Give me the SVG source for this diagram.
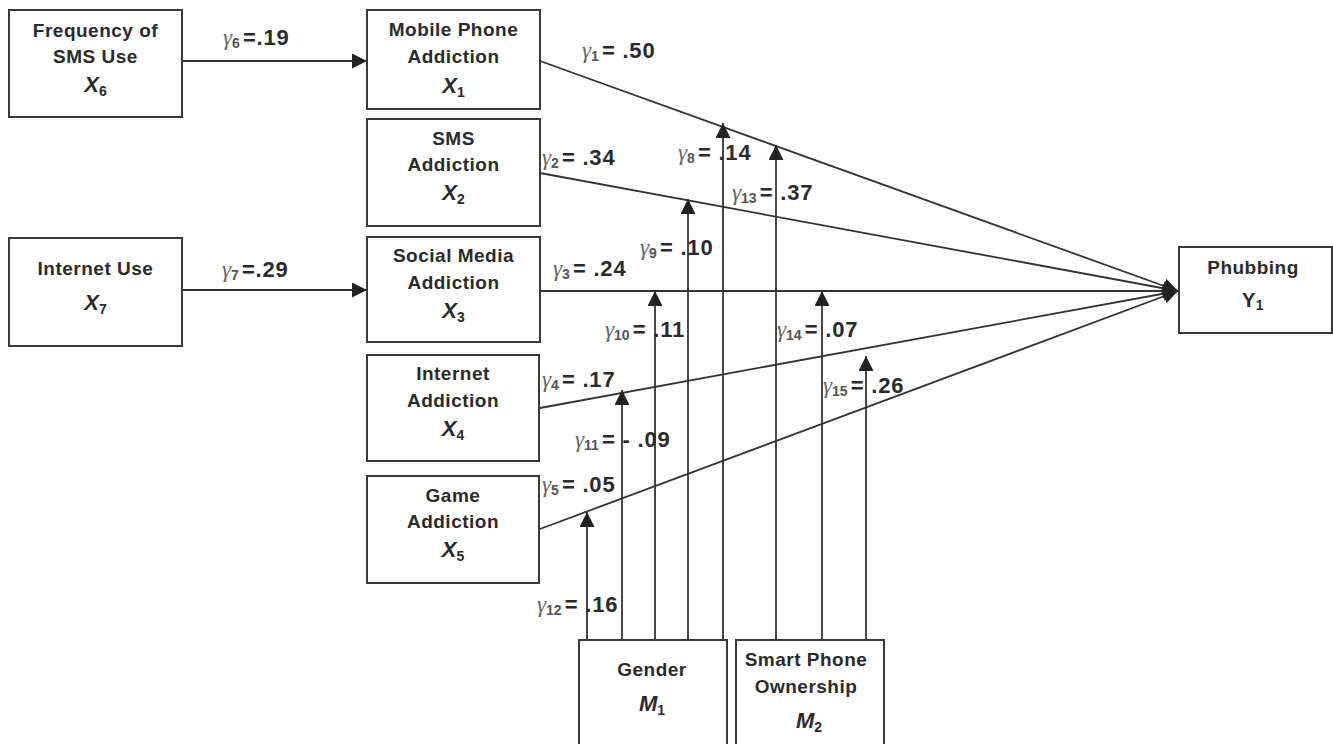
<svg xmlns="http://www.w3.org/2000/svg" width="1333" height="744" viewBox="0 0 1333 744">
<defs>
<style>
.box{fill:#fff;stroke:#3a3a3a;stroke-width:2}
.nt{font-family:"Liberation Sans",Arial,sans-serif;font-weight:bold;font-size:19px;letter-spacing:0.5px;fill:#2b2b2b;text-anchor:middle}
.vt{font-family:"Liberation Sans",Arial,sans-serif;font-weight:bold;font-style:italic;font-size:22px;fill:#2b2b2b;text-anchor:middle}
.vs{font-style:normal;font-size:14px}
.ln{stroke:#333;stroke-width:1.8;fill:none}
.el{font-family:"Liberation Sans",Arial,sans-serif;font-weight:bold;font-size:22px;letter-spacing:0.8px;fill:#2b2b2b}
.g{font-family:"Liberation Serif","Times New Roman",serif;font-style:italic;font-weight:normal;font-size:23px;letter-spacing:0;fill:#666}
.s{font-size:14px;letter-spacing:0;fill:#555}
</style>
<marker id="ah" markerUnits="userSpaceOnUse" markerWidth="16" markerHeight="16" viewBox="0 0 16 16" refX="15" refY="7.5" orient="auto">
<path d="M0,0 L15,7.5 L0,15 z" fill="#222"/>
</marker>
</defs>
<rect width="1333" height="744" fill="#fff"/>

<g id="connectors">
<line class="ln" x1="182" y1="61" x2="367" y2="61" marker-end="url(#ah)"/>
<line class="ln" x1="182" y1="290" x2="367" y2="290" marker-end="url(#ah)"/>
<line class="ln" x1="540" y1="61" x2="1178" y2="291" marker-end="url(#ah)"/>
<line class="ln" x1="540" y1="173" x2="1178" y2="291" marker-end="url(#ah)"/>
<line class="ln" x1="540" y1="291" x2="1178" y2="291" marker-end="url(#ah)"/>
<line class="ln" x1="540" y1="408" x2="1178" y2="291" marker-end="url(#ah)"/>
<line class="ln" x1="540" y1="529" x2="1178" y2="291" marker-end="url(#ah)"/>
<line class="ln" x1="587" y1="640" x2="587" y2="512" marker-end="url(#ah)"/>
<line class="ln" x1="622" y1="640" x2="622" y2="390" marker-end="url(#ah)"/>
<line class="ln" x1="655" y1="640" x2="655" y2="291" marker-end="url(#ah)"/>
<line class="ln" x1="688" y1="640" x2="688" y2="199" marker-end="url(#ah)"/>
<line class="ln" x1="723" y1="640" x2="723" y2="123" marker-end="url(#ah)"/>
<line class="ln" x1="776" y1="640" x2="776" y2="145" marker-end="url(#ah)"/>
<line class="ln" x1="822" y1="640" x2="822" y2="291" marker-end="url(#ah)"/>
<line class="ln" x1="866" y1="640" x2="866" y2="356" marker-end="url(#ah)"/>
</g>

<g id="edge-labels">
<text class="el" x="223" y="45"><tspan class="g">γ</tspan><tspan class="s" dy="3">6</tspan><tspan dx="3" dy="-3">=.19</tspan></text>
<text class="el" x="222" y="277"><tspan class="g">γ</tspan><tspan class="s" dy="3">7</tspan><tspan dx="3" dy="-3">=.29</tspan></text>
<text class="el" x="582" y="58"><tspan class="g">γ</tspan><tspan class="s" dy="3">1</tspan><tspan dx="3" dy="-3">= .50</tspan></text>
<text class="el" x="542" y="165"><tspan class="g">γ</tspan><tspan class="s" dy="3">2</tspan><tspan dx="3" dy="-3">= .34</tspan></text>
<text class="el" x="678" y="160"><tspan class="g">γ</tspan><tspan class="s" dy="3">8</tspan><tspan dx="3" dy="-3">= .14</tspan></text>
<text class="el" x="732" y="200"><tspan class="g">γ</tspan><tspan class="s" dy="3">13</tspan><tspan dx="3" dy="-3">= .37</tspan></text>
<text class="el" x="640" y="255"><tspan class="g">γ</tspan><tspan class="s" dy="3">9</tspan><tspan dx="3" dy="-3">= .10</tspan></text>
<text class="el" x="553" y="276"><tspan class="g">γ</tspan><tspan class="s" dy="3">3</tspan><tspan dx="3" dy="-3">= .24</tspan></text>
<text class="el" x="605" y="337"><tspan class="g">γ</tspan><tspan class="s" dy="3">10</tspan><tspan dx="3" dy="-3">= .11</tspan></text>
<text class="el" x="777" y="337"><tspan class="g">γ</tspan><tspan class="s" dy="3">14</tspan><tspan dx="3" dy="-3">= .07</tspan></text>
<text class="el" x="542" y="387"><tspan class="g">γ</tspan><tspan class="s" dy="3">4</tspan><tspan dx="3" dy="-3">= .17</tspan></text>
<text class="el" x="823" y="393"><tspan class="g">γ</tspan><tspan class="s" dy="3">15</tspan><tspan dx="3" dy="-3">= .26</tspan></text>
<text class="el" x="575" y="447"><tspan class="g">γ</tspan><tspan class="s" dy="3">11</tspan><tspan dx="3" dy="-3">= - .09</tspan></text>
<text class="el" x="542" y="492"><tspan class="g">γ</tspan><tspan class="s" dy="3">5</tspan><tspan dx="3" dy="-3">= .05</tspan></text>
<text class="el" x="537" y="612"><tspan class="g">γ</tspan><tspan class="s" dy="3">12</tspan><tspan dx="3" dy="-3">= .16</tspan></text>
</g>

<g id="X6">
<rect class="box" x="9" y="10" width="173" height="107"/>
<text class="nt" x="95.5" y="37">Frequency of</text>
<text class="nt" x="95.5" y="63">SMS Use</text>
<text class="vt" x="95.5" y="92">X<tspan class="vs" dy="4">6</tspan></text>
</g>
<g id="X7">
<rect class="box" x="9" y="238" width="173" height="108"/>
<text class="nt" x="95.5" y="275">Internet Use</text>
<text class="vt" x="95.5" y="310">X<tspan class="vs" dy="4">7</tspan></text>
</g>
<g id="X1">
<rect class="box" x="367" y="10" width="173" height="99"/>
<text class="nt" x="453.5" y="36">Mobile Phone</text>
<text class="nt" x="453.5" y="63">Addiction</text>
<text class="vt" x="453.5" y="93">X<tspan class="vs" dy="4">1</tspan></text>
</g>
<g id="X2">
<rect class="box" x="367" y="119" width="173" height="107"/>
<text class="nt" x="453.5" y="145">SMS</text>
<text class="nt" x="453.5" y="171">Addiction</text>
<text class="vt" x="453.5" y="200">X<tspan class="vs" dy="4">2</tspan></text>
</g>
<g id="X3">
<rect class="box" x="367" y="237" width="173" height="105"/>
<text class="nt" x="453.5" y="262">Social Media</text>
<text class="nt" x="453.5" y="289">Addiction</text>
<text class="vt" x="453.5" y="318">X<tspan class="vs" dy="4">3</tspan></text>
</g>
<g id="X4">
<rect class="box" x="367" y="355" width="172" height="106"/>
<text class="nt" x="453" y="380">Internet</text>
<text class="nt" x="453" y="407">Addiction</text>
<text class="vt" x="453" y="436">X<tspan class="vs" dy="4">4</tspan></text>
</g>
<g id="X5">
<rect class="box" x="367" y="476" width="172" height="107"/>
<text class="nt" x="453" y="502">Game</text>
<text class="nt" x="453" y="528">Addiction</text>
<text class="vt" x="453" y="557">X<tspan class="vs" dy="4">5</tspan></text>
</g>
<g id="Y1">
<rect class="box" x="1179" y="247" width="153" height="86"/>
<text class="nt" x="1253" y="274">Phubbing</text>
<text class="nt" x="1253" y="307" style="font-size:20px">Y<tspan class="vs" dy="3">1</tspan></text>
</g>
<g id="M1">
<rect class="box" x="579" y="640" width="148" height="120"/>
<text class="nt" x="652" y="676">Gender</text>
<text class="vt" x="652" y="711">M<tspan class="vs" dy="4">1</tspan></text>
</g>
<g id="M2">
<rect class="box" x="736" y="640" width="148" height="120"/>
<text class="nt" x="806" y="666">Smart Phone</text>
<text class="nt" x="806" y="693">Ownership</text>
<text class="vt" x="809" y="728">M<tspan class="vs" dy="4">2</tspan></text>
</g>
</svg>
